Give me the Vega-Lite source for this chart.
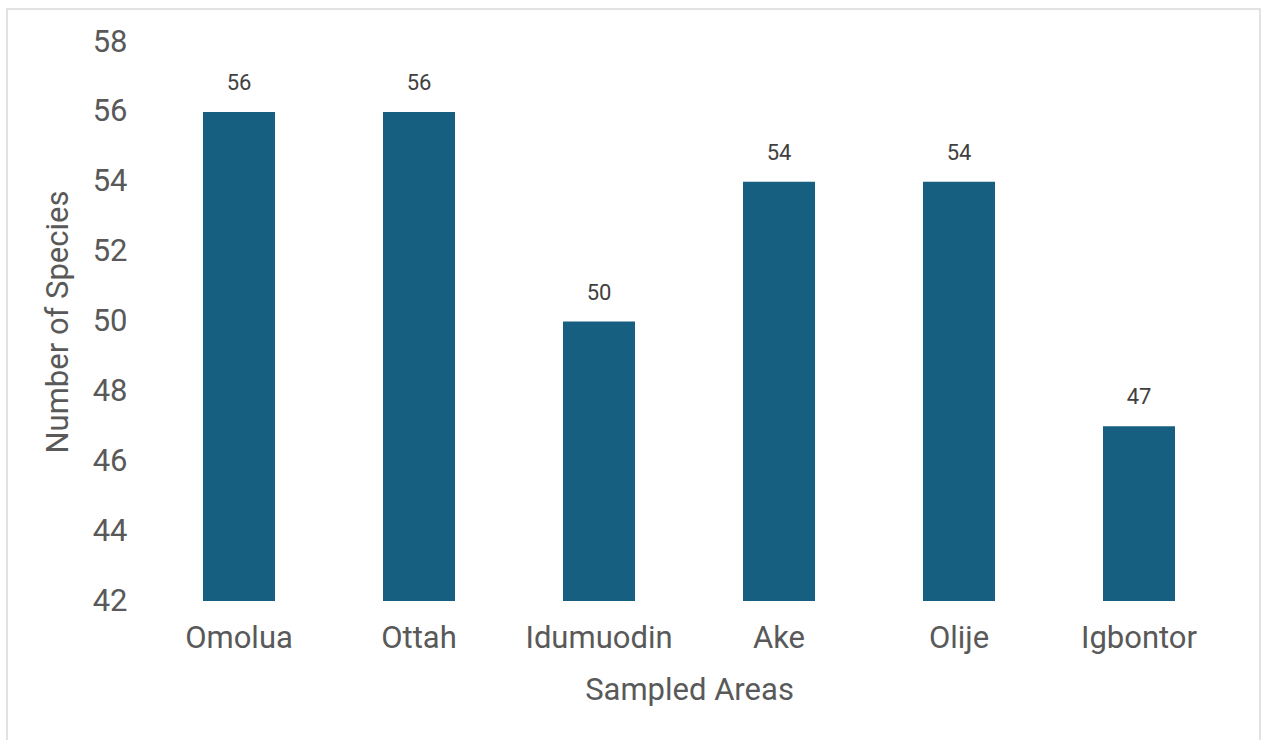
{
  "$schema": "https://vega.github.io/schema/vega-lite/v6.json",
  "autosize": "none",
  "padding": {"left": 7, "top": 9, "right": 4, "bottom": 0},
  "width": 1253,
  "height": 740,
  "background": "white",
  "config": {
    "view": {"stroke": "#d9d9d9", "strokeWidth": 1.5},
    "font": "Roboto"
  },
  "data": {
    "values": [
      {"area": "Omolua", "species": 56},
      {"area": "Ottah", "species": 56},
      {"area": "Idumuodin", "species": 50},
      {"area": "Ake", "species": 54},
      {"area": "Olije", "species": 54},
      {"area": "Igbontor", "species": 47}
    ]
  },
  "encoding": {
    "x": {
      "field": "area",
      "type": "nominal",
      "sort": null,
      "scale": {"range": [142, 1222], "paddingInner": 0.6, "paddingOuter": 0.3},
      "axis": {
        "title": "Sampled Areas",
        "labelAngle": 0,
        "labelFontSize": 31,
        "labelColor": "#595959",
        "labelPadding": 22,
        "titleFontSize": 31,
        "titleFontWeight": "normal",
        "titleColor": "#595959",
        "titlePadding": 22,
        "ticks": false,
        "domain": false,
        "grid": false,
        "offset": -148
      }
    },
    "y": {
      "field": "species",
      "type": "quantitative",
      "scale": {"domain": [42, 58], "range": [592, 33], "zero": false, "nice": false},
      "axis": {
        "title": "Number of Species",
        "values": [42, 44, 46, 48, 50, 52, 54, 56, 58],
        "labelFontSize": 31,
        "labelColor": "#595959",
        "labelPadding": 8,
        "titleFontSize": 31,
        "titleFontWeight": "normal",
        "titleColor": "#595959",
        "titlePadding": 18,
        "ticks": false,
        "domain": false,
        "grid": false,
        "offset": -128
      }
    }
  },
  "layer": [
    {
      "mark": {"type": "bar", "color": "#165f80"},
      "encoding": {"y2": {"datum": 42}}
    },
    {
      "mark": {"type": "text", "baseline": "alphabetic", "dy": -22, "fontSize": 22, "color": "#404040"},
      "encoding": {"text": {"field": "species", "type": "quantitative"}}
    }
  ]
}
